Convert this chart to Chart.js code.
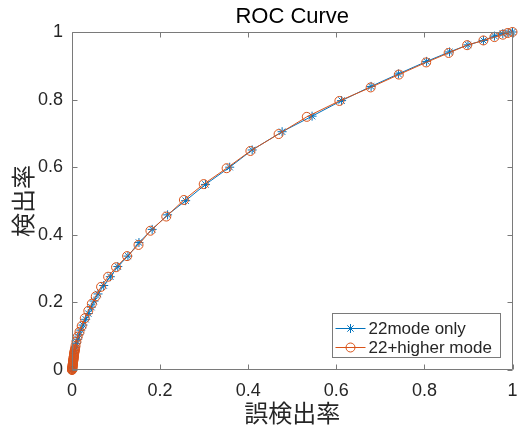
<!DOCTYPE html>
<html><head><meta charset="utf-8">
<script src="https://cdn.jsdelivr.net/npm/chart.js@4.4.1/dist/chart.umd.min.js"></script>
<style>html,body{margin:0;padding:0;background:#fff}#wrap{width:518px;height:434px}</style>
</head><body><div id="wrap"><canvas id="c" width="518" height="434"></canvas></div>
<script>
const titleText = 'ROC Curve';
const xLabel = '誤検出率';
const yLabel = '検出率';
const seriesNames = ['22mode only', '22+higher mode'];
const xTicks = [0, 0.2, 0.4, 0.6, 0.8, 1];
const yTicks = [0, 0.2, 0.4, 0.6, 0.8, 1];

// 22mode only (false positive rate, detection rate)
const fprOnly = [1.0, 0.990, 0.978, 0.959, 0.934, 0.899, 0.857, 0.805, 0.741, 0.679, 0.612, 0.545, 0.477, 0.409, 0.358, 0.303, 0.258, 0.217, 0.182, 0.152, 0.127, 0.104, 0.087, 0.072, 0.059, 0.050, 0.044, 0.037, 0.031, 0.025, 0.020, 0.016, 0.013, 0.010, 0.008, 0.006, 0.005, 0.004, 0.003, 0.0025, 0.002, 0.0015, 0.001, 0.0005, 0];
const tprOnly = [1.0, 0.998, 0.995, 0.988, 0.975, 0.962, 0.941, 0.913, 0.876, 0.839, 0.797, 0.751, 0.705, 0.651, 0.600, 0.549, 0.501, 0.459, 0.416, 0.377, 0.337, 0.306, 0.276, 0.250, 0.225, 0.204, 0.186, 0.167, 0.150, 0.133, 0.118, 0.104, 0.091, 0.079, 0.068, 0.058, 0.049, 0.041, 0.033, 0.026, 0.019, 0.013, 0.008, 0.004, 0];

// 22+higher mode
const fprHigher = [1.0, 0.989, 0.978, 0.959, 0.934, 0.897, 0.855, 0.804, 0.742, 0.678, 0.607, 0.533, 0.469, 0.405, 0.351, 0.299, 0.254, 0.214, 0.178, 0.151, 0.125, 0.100, 0.082, 0.066, 0.054, 0.045, 0.037, 0.029, 0.022, 0.017, 0.013, 0.010, 0.008, 0.007, 0.0065, 0.006, 0.0055, 0.005, 0.0048, 0.0045, 0.0042, 0.004, 0.0037, 0.0035, 0.0032, 0.003, 0.0028, 0.0025, 0.0023, 0.002, 0.0018, 0.0016, 0.0015, 0.0013, 0.0011, 0.001, 0.0008, 0.0007, 0.0005, 0.0004, 0.0002, 0];
const tprHigher = [1.0, 0.997, 0.992, 0.985, 0.975, 0.961, 0.938, 0.910, 0.874, 0.836, 0.796, 0.749, 0.698, 0.648, 0.597, 0.550, 0.503, 0.454, 0.412, 0.370, 0.337, 0.304, 0.276, 0.246, 0.218, 0.196, 0.175, 0.153, 0.130, 0.113, 0.099, 0.084, 0.071, 0.063, 0.059, 0.056, 0.053, 0.050, 0.047, 0.044, 0.041, 0.039, 0.036, 0.034, 0.031, 0.029, 0.027, 0.025, 0.022, 0.020, 0.018, 0.016, 0.014, 0.012, 0.010, 0.008, 0.007, 0.005, 0.004, 0.002, 0.001, 0];

const colors = ['#0072BD', '#D95319'];
const markers = ['star', 'circle'];
const latin = '"Liberation Sans", "Noto Sans CJK JP", sans-serif';
const cjk = '"Noto Sans CJK JP", "Liberation Sans", sans-serif';
const axisColor = '#262626';
const frameColor = '#7a7a7a';

function pts(xs, ys) { return xs.map((x, i) => ({x: x, y: ys[i]})); }

const datasets = [
  {label: seriesNames[0], data: pts(fprOnly, tprOnly), order: 1},
  {label: seriesNames[1], data: pts(fprHigher, tprHigher), order: 0}
].map((d, i) => Object.assign(d, {
  showLine: true, fill: false, tension: 0, clip: false,
  borderColor: colors[i], borderWidth: 1,
  pointStyle: markers[i], pointRadius: 4.5, pointHoverRadius: 4.5,
  pointBorderColor: colors[i], pointBorderWidth: 1,
  pointBackgroundColor: 'rgba(0,0,0,0)'
}));

const framePlugin = {
  id: 'frame',
  afterDraw(chart) {
    const ctx = chart.ctx, a = chart.chartArea;
    const L = Math.round(a.left) + 0.5, R = Math.round(a.right) - 0.5;
    const T = Math.round(a.top) + 0.5, B = Math.round(a.bottom) - 0.5;
    ctx.save();
    ctx.strokeStyle = frameColor; ctx.lineWidth = 1;
    ctx.beginPath();
    ctx.rect(L, T, R - L, B - T);
    const tl = 5;
    xTicks.forEach(v => {
      const p = Math.round(chart.scales.x.getPixelForValue(v)) + 0.5;
      ctx.moveTo(p, B); ctx.lineTo(p, B - tl);
      ctx.moveTo(p, T); ctx.lineTo(p, T + tl);
    });
    yTicks.forEach(v => {
      const p = Math.round(chart.scales.y.getPixelForValue(v)) + 0.5;
      ctx.moveTo(L, p); ctx.lineTo(L + tl, p);
      ctx.moveTo(R, p); ctx.lineTo(R - tl, p);
    });
    ctx.stroke();
    // title centred over the axes
    ctx.fillStyle = '#000';
    ctx.font = '22px ' + latin;
    ctx.textAlign = 'center'; ctx.textBaseline = 'middle';
    ctx.fillText(titleText, (a.left + a.right) / 2, 17);
    // legend
    const w = 168, h = 44;
    const x0 = Math.round(a.right - 13 - w) + 0.5, y0 = Math.round(a.bottom - 13 - h) + 0.5;
    ctx.fillStyle = '#fff';
    ctx.fillRect(x0, y0, w, h);
    ctx.strokeStyle = frameColor;
    ctx.strokeRect(x0, y0, w, h);
    ctx.font = '17px ' + latin;
    ctx.textAlign = 'left';
    datasets.forEach((d, i) => {
      const cy = y0 + 15 + i * 19;
      const lx1 = x0 + 3, lx2 = x0 + 33, mx = (lx1 + lx2) / 2;
      ctx.strokeStyle = colors[i]; ctx.lineWidth = 1;
      ctx.beginPath(); ctx.moveTo(lx1, cy); ctx.lineTo(lx2, cy); ctx.stroke();
      ctx.fillStyle = 'rgba(0,0,0,0)';
      Chart.helpers.drawPoint(ctx, {pointStyle: markers[i], radius: 4.5, borderWidth: 1, rotation: 0}, mx, cy);
      ctx.fillStyle = axisColor;
      ctx.fillText(d.label, x0 + 36, cy + 1);
    });
    ctx.restore();
  }
};

Chart.defaults.font.family = latin;

new Chart(document.getElementById('c'), {
  type: 'scatter',
  data: {datasets: datasets},
  options: {
    responsive: false, animation: false, devicePixelRatio: 1,
    layout: {padding: {left: 0, right: 5, top: 32, bottom: 0}},
    plugins: {legend: {display: false}, title: {display: false}, tooltip: {enabled: false}},
    scales: {
      x: {
        type: 'linear', min: 0, max: 1,
        afterBuildTicks: s => { s.ticks = xTicks.map(v => ({value: v})); },
        afterFit: s => { s.height = 64; s.paddingRight = 0; s.paddingLeft = 0; },
        grid: {display: false, drawTicks: false, tickLength: 0},
        border: {display: false},
        ticks: {padding: 10, color: axisColor, font: {size: 18, family: latin}, maxRotation: 0,
                callback: v => String(v)},
        title: {display: true, text: xLabel, color: axisColor, font: {size: 24, family: cjk},
                padding: {top: 0, bottom: 7}}
      },
      y: {
        type: 'linear', min: 0, max: 1,
        afterBuildTicks: s => { s.ticks = yTicks.map(v => ({value: v})); },
        afterFit: s => { s.width = 72; s.paddingTop = 0; s.paddingBottom = 0; },
        grid: {display: false, drawTicks: false, tickLength: 0},
        border: {display: false},
        ticks: {padding: 9, color: axisColor, font: {size: 18, family: latin},
                callback: v => String(v)},
        title: {display: true, text: yLabel, color: axisColor, font: {size: 24, family: cjk},
                padding: {top: 8, bottom: 0}}
      }
    }
  },
  plugins: [framePlugin]
});
</script></body></html>
